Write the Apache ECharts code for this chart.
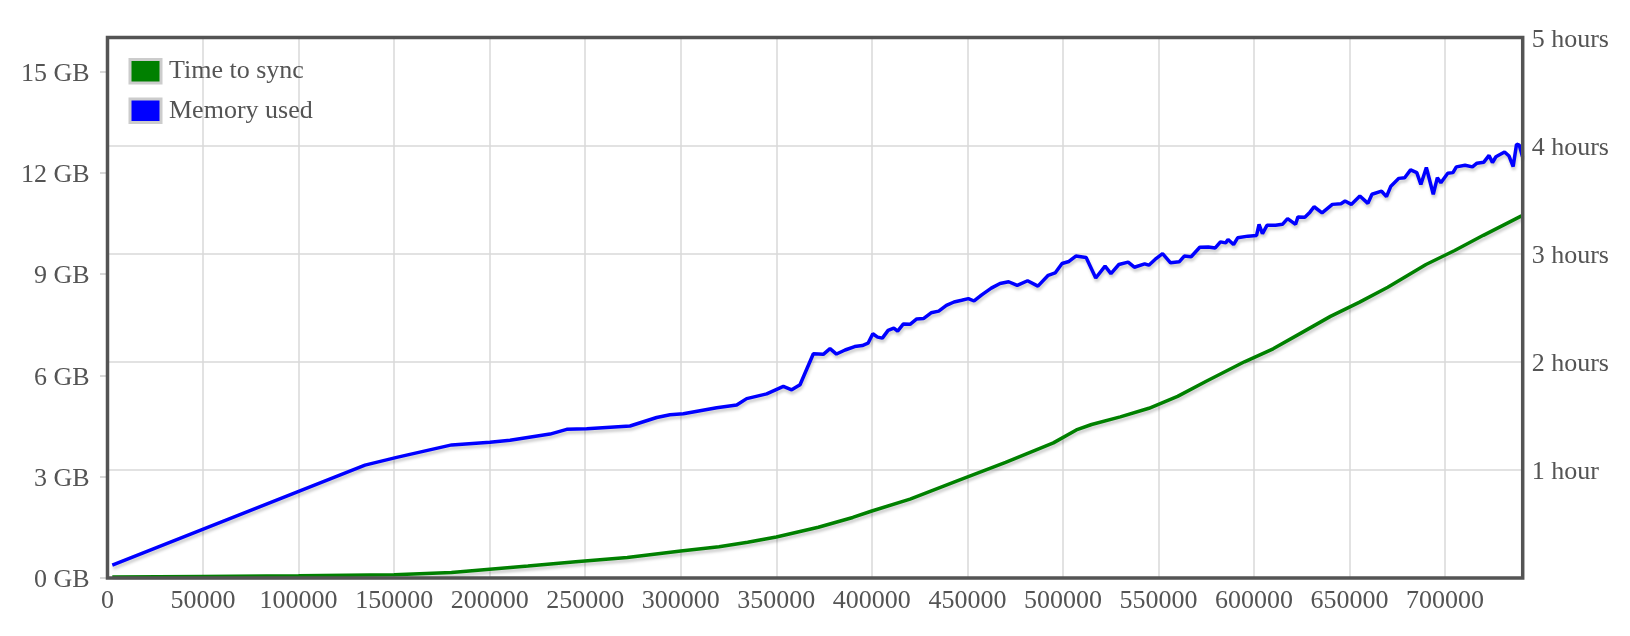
<!DOCTYPE html>
<html><head><meta charset="utf-8">
<script src="https://cdn.jsdelivr.net/npm/echarts@6/dist/echarts.min.js"></script>
<style>html,body{margin:0;padding:0;background:#fff}#c{width:1630px;height:636px}</style>
</head><body><div id="c"></div>
<script>
const seriesNames = ['Time to sync', 'Memory used'];
const seriesColors = ['#008000', '#0000ff'];

const syncX = [2500, 50000, 100000, 150000, 180000, 200000, 220000, 245000, 272000, 300000, 320000, 335000, 350000, 372000, 390000, 400000, 420000, 445000, 470000, 495000, 507000, 515000, 530000, 545000, 560000, 575000, 595000, 610000, 625000, 640000, 655000, 670000, 690000, 705000, 720000, 740000];
const syncHours = [0.01, 0.015, 0.02, 0.03, 0.05, 0.08, 0.11, 0.15, 0.19, 0.25, 0.29, 0.33, 0.38, 0.47, 0.56, 0.62, 0.73, 0.9, 1.07, 1.25, 1.37, 1.42, 1.49, 1.57, 1.68, 1.82, 2.0, 2.12, 2.27, 2.42, 2.55, 2.69, 2.9, 3.03, 3.17, 3.35];

const memX = [2500, 134760, 151350, 180130, 200180, 210650, 231580, 240310, 250770, 273430, 287400, 294380, 301340, 318800, 329270, 334500, 344970, 353690, 358050, 362410, 369380, 374600, 378100,
  381500, 386000, 391000, 395000, 398000, 400500, 403000, 405500, 408500, 411500, 413500, 416500, 420000, 423500, 427000, 431000, 435000, 439000, 443000, 447000, 450500, 453500, 457500, 462500,
  467080, 471580, 476080, 481480, 486900, 492300, 495910, 499530, 503140, 506750, 512140, 517160, 522040, 525120, 529260, 534120, 537370, 542760, 544950, 548200, 552130, 556320, 560820, 563490, 567100,
  571600, 576100, 579710, 582430, 585150, 586410, 589290, 591430, 596820, 601320, 602630, 604410, 606770, 611270, 614880, 617550, 621740, 622990, 626600, 629270, 631420, 635610, 641000, 645500, 647650,
  650890, 655390, 659580, 661720, 666750, 669310, 671610, 675800, 678830, 681920, 685170, 687300, 690180, 693790, 695940, 697770, 701380, 704100, 705880, 710430, 714300, 716660, 720270, 722990, 724770,
  726600, 731100, 733460, 735600, 737380, 738840, 740500];
const memGB = [0.38, 3.34, 3.57, 3.94, 4.02, 4.08, 4.26, 4.40, 4.42, 4.50, 4.75, 4.83, 4.86, 5.04, 5.12, 5.31, 5.45, 5.67, 5.57, 5.72, 6.64, 6.62, 6.79,
  6.63, 6.75, 6.85, 6.88, 6.95, 7.23, 7.13, 7.10, 7.33, 7.40, 7.31, 7.52, 7.51, 7.67, 7.68, 7.85, 7.90, 8.07, 8.17, 8.22, 8.27, 8.20, 8.38, 8.58,
  8.72, 8.77, 8.66, 8.80, 8.64, 8.96, 9.03, 9.31, 9.37, 9.53, 9.49, 8.88, 9.23, 9.01, 9.28, 9.35, 9.20, 9.30, 9.26, 9.43, 9.60, 9.33, 9.36, 9.53, 9.51,
  9.79, 9.80, 9.77, 9.95, 9.92, 10.02, 9.87, 10.07, 10.12, 10.14, 10.47, 10.19, 10.44, 10.44, 10.47, 10.64, 10.47, 10.69, 10.68, 10.83, 10.99, 10.81, 11.06, 11.08, 11.16,
  11.06, 11.31, 11.09, 11.36, 11.45, 11.29, 11.60, 11.83, 11.85, 12.08, 12.00, 11.65, 12.15, 11.36, 11.85, 11.70, 11.98, 12.00, 12.17, 12.22, 12.17, 12.28, 12.31, 12.51, 12.30,
  12.47, 12.61, 12.49, 12.18, 12.84, 12.81, 12.47];

const gbTicks = [0, 3, 6, 9, 12, 15];
const hourTicks = [1, 2, 3, 4, 5];

const FONT = 'Liberation Serif';
const TXT = '#545454';
const GRIDC = '#d9d9d9';

function pairs(xs, ys) { return xs.map((x, i) => [x, ys[i]]); }

const W = 1630, H = 636;
const G = { left: 107.5, right: 107.3, top: 37.5, bottom: 58 };

const chart = echarts.init(document.getElementById('c'), null, { renderer: 'canvas' });
const shadow = { shadowColor: 'rgba(0,0,0,0.2)', shadowBlur: 3, shadowOffsetX: 1, shadowOffsetY: 3 };

chart.setOption({
  animation: false,
  backgroundColor: '#ffffff',
  grid: { left: G.left, right: G.right, top: G.top, bottom: G.bottom, show: false },
  graphic: [{
    type: 'rect', silent: true, z: 100,
    shape: { x: G.left, y: G.top, width: W - G.left - G.right, height: H - G.top - G.bottom },
    style: { fill: null, stroke: '#545454', lineWidth: 3.5 }
  }],
  legend: {
    orient: 'vertical', left: 128.5, top: 58, padding: 0, icon: 'rect', itemWidth: 31, itemHeight: 23.5, itemGap: 13,
    itemStyle: { borderColor: '#cccccc', borderWidth: 3 },
    textStyle: { fontFamily: FONT, fontSize: 26, color: TXT, padding: [0, 0, 0, 3] },
    data: seriesNames, selectedMode: false
  },
  xAxis: {
    type: 'value', min: 0, max: 740600, interval: 50000,
    axisLine: { show: false }, axisTick: { show: false },
    splitLine: { show: true, lineStyle: { color: GRIDC, width: 1.5 } },
    axisLabel: { fontFamily: FONT, fontSize: 26, color: TXT, margin: 10,
      formatter: v => (v % 50000 === 0 ? String(v) : '') }
  },
  yAxis: [
    {
      type: 'value', position: 'left', min: 0, max: 16,
      axisLine: { show: false },
      splitLine: { show: false },
      axisTick: { show: true, inside: false, length: 7.5, lineStyle: { color: '#cccccc', width: 1.5 }, customValues: gbTicks },
      axisLabel: { fontFamily: FONT, fontSize: 26, color: TXT, margin: 18, customValues: gbTicks, verticalAlign: 'top', lineHeight: 5,
        formatter: v => v + ' GB' }
    },
    {
      type: 'value', position: 'right', min: 0, max: 5, interval: 1,
      axisLine: { show: false }, axisTick: { show: false },
      splitLine: { show: true, lineStyle: { color: GRIDC, width: 1.5 } },
      axisLabel: { fontFamily: FONT, fontSize: 26, color: TXT, margin: 9, customValues: hourTicks, verticalAlign: 'top', lineHeight: 5,
        formatter: v => (v === 1 ? '1 hour' : v + ' hours') }
    }
  ],
  series: [
    { name: seriesNames[0], type: 'line', yAxisIndex: 1, data: pairs(syncX, syncHours), showSymbol: false, symbol: 'none',
      itemStyle: { color: seriesColors[0] }, lineStyle: Object.assign({ width: 3.5, color: seriesColors[0] }, shadow) },
    { name: seriesNames[1], type: 'line', yAxisIndex: 0, data: pairs(memX, memGB), showSymbol: false, symbol: 'none',
      itemStyle: { color: seriesColors[1] }, lineStyle: Object.assign({ width: 3.5, color: seriesColors[1] }, shadow) }
  ]
});
</script>
</body></html>
